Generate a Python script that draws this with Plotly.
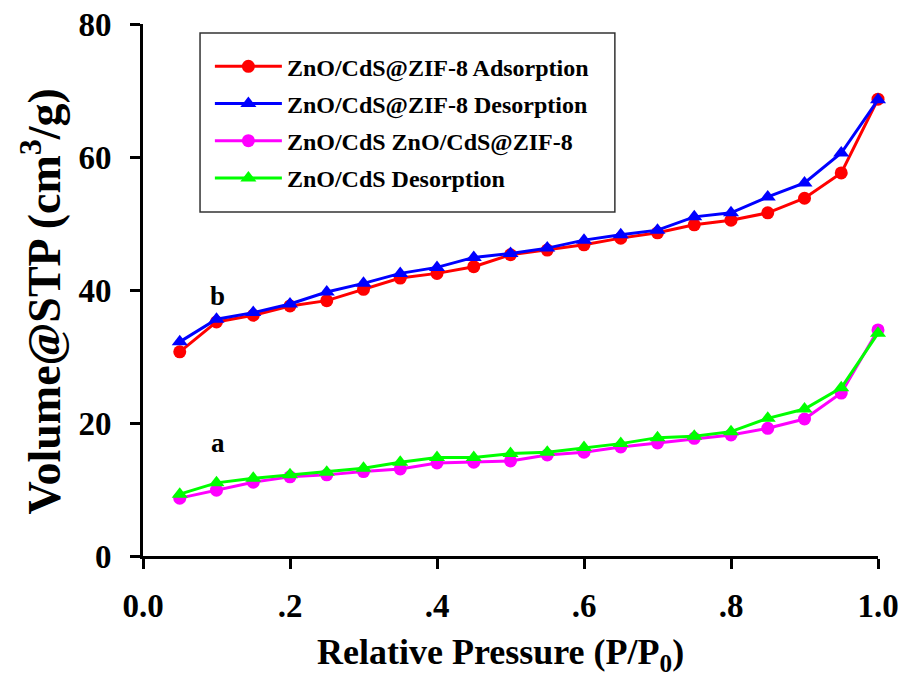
import plotly.graph_objects as go

pressure = [0.05, 0.10, 0.15, 0.20, 0.25, 0.30, 0.35, 0.40, 0.45, 0.50,
            0.55, 0.60, 0.65, 0.70, 0.75, 0.80, 0.85, 0.90, 0.95, 1.00]

zif_ads = [30.7, 35.2, 36.2, 37.6, 38.4, 40.1, 41.8, 42.5, 43.5, 45.3,
           46.0, 46.8, 47.8, 48.6, 49.8, 50.5, 51.6, 53.8, 57.6, 68.7]
zif_des = [32.2, 35.6, 36.6, 37.9, 39.7, 41.0, 42.5, 43.4, 44.9, 45.5,
           46.3, 47.5, 48.3, 49.0, 51.0, 51.6, 54.0, 56.1, 60.6, 68.6]
zc_ads = [8.7, 9.9, 11.1, 11.9, 12.2, 12.7, 13.1, 14.0, 14.1, 14.3,
          15.2, 15.6, 16.4, 17.0, 17.7, 18.2, 19.2, 20.6, 24.5, 34.0]
zc_des = [9.3, 11.0, 11.7, 12.2, 12.6, 13.2, 14.1, 14.8, 14.8, 15.4,
          15.6, 16.3, 16.9, 17.8, 18.0, 18.7, 20.7, 22.1, 25.3, 33.5]

names = ["ZnO/CdS@ZIF-8 Adsorption", "ZnO/CdS@ZIF-8 Desorption",
         "ZnO/CdS ZnO/CdS@ZIF-8", "ZnO/CdS Desorption"]
colors = ["#ff0000", "#0000ff", "#ff00ff", "#00ff00"]
symbols = ["circle", "triangle-up", "circle", "triangle-up"]
sizes = [13, 14, 13, 14]
series = [zif_ads, zif_des, zc_ads, zc_des]

x_tickvals = [0.0, 0.2, 0.4, 0.6, 0.8, 1.0]
x_ticktext = ["0.0", ".2", ".4", ".6", ".8", "1.0"]
y_tickvals = [0, 20, 40, 60, 80]

FONT = "Liberation Serif, Times New Roman, serif"

fig = go.Figure()
for i, (nm, ys) in enumerate(zip(names, series)):
    fig.add_trace(go.Scatter(
        x=pressure, y=ys, name=nm, mode="lines+markers",
        line=dict(color=colors[i], width=3),
        marker=dict(color=colors[i], symbol=symbols[i], size=sizes[i]),
        legendgroup=f"g{i}", cliponaxis=False,
    ))

fig.add_annotation(x=0.102, y=39.1, text="b", showarrow=False,
                   font=dict(family=FONT, size=27, color="black", weight="bold"))
fig.add_annotation(x=0.102, y=17.0, text="a", showarrow=False,
                   font=dict(family=FONT, size=27, color="black", weight="bold"))

# axis titles
fig.add_annotation(xref="paper", yref="paper", x=-0.139, y=0.478,
                   text="Volume@STP (cm<sup>3</sup>/g)", textangle=-90,
                   showarrow=False, xanchor="center", yanchor="middle",
                   font=dict(family=FONT, size=46, color="black", weight="bold"))
fig.add_annotation(xref="paper", yref="paper", x=0.487, y=-0.186,
                   text="Relative Pressure (P/P<sub>0</sub>)",
                   showarrow=False, xanchor="center", yanchor="middle",
                   font=dict(family=FONT, size=36, color="black", weight="bold"))

# legend frame
fig.add_shape(type="rect", xref="paper", yref="paper",
              x0=0.0776, x1=0.642, y0=0.6466, y1=0.983,
              line=dict(color="#333333", width=1.5), fillcolor="rgba(0,0,0,0)",
              layer="below")

fig.update_layout(
    width=907, height=690,
    margin=dict(l=143, r=29, t=24, b=134, autoexpand=False),
    paper_bgcolor="white", plot_bgcolor="white",
    font=dict(family=FONT, color="black", weight="bold"),
    legend=dict(
        x=0.091, y=0.962, xanchor="left", yanchor="top",
        bgcolor="rgba(0,0,0,0)", borderwidth=0,
        font=dict(family=FONT, size=24, color="black", weight="bold"),
        tracegroupgap=3, itemwidth=67,
    ),
    xaxis=dict(
        range=[0, 1.0], tickvals=x_tickvals, ticktext=x_ticktext,
        showgrid=False, zeroline=False, showline=True, linecolor="black", linewidth=3,
        ticks="outside", ticklen=10, tickwidth=3, tickcolor="black",
        tickfont=dict(family=FONT, size=33, color="black", weight="bold"),
        ticklabelstandoff=8, automargin=False,
    ),
    yaxis=dict(
        range=[0, 80], tickvals=y_tickvals,
        showgrid=False, zeroline=False, showline=True, linecolor="black", linewidth=3,
        ticks="outside", ticklen=10, tickwidth=3, tickcolor="black",
        tickfont=dict(family=FONT, size=33, color="black", weight="bold"),
        ticklabelstandoff=12, automargin=False,
    ),
)

fig.write_html("out.html", post_script="document.body.style.margin='0';",
               config={"displayModeBar": False})
